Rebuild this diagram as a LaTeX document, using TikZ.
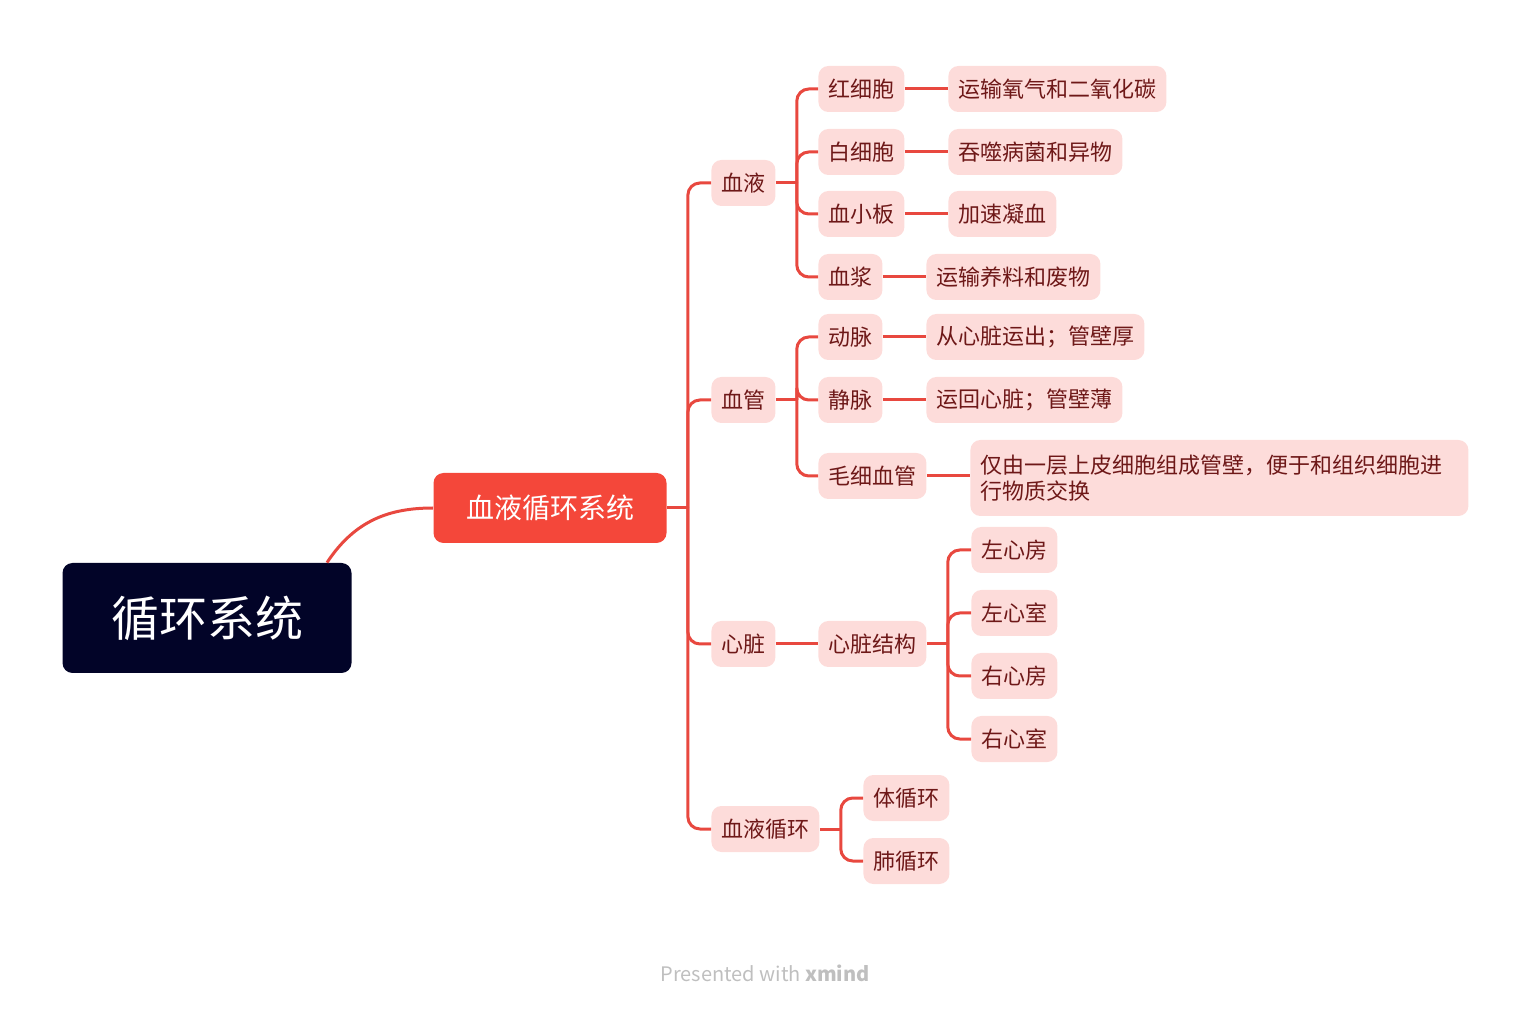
\documentclass[tikz,border=0pt]{standalone}
\usepackage{fontspec}
\setmainfont{Noto Sans CJK SC}
\usepackage{xcolor}
\usetikzlibrary{calc}
\definecolor{navy}{RGB}{2,4,40}
\definecolor{tomato}{RGB}{244,71,58}
\definecolor{blush}{RGB}{253,220,218}
\definecolor{wine}{RGB}{110,24,24}
\definecolor{linkred}{RGB}{232,72,63}

\begin{document}
\begin{tikzpicture}[
                x=0.5pt, y=-0.5pt,
                rootnode/.style={shape=rectangle, rounded corners=5pt, fill=navy, text=white, font=\fontsize{24}{28}\selectfont, minimum width=144.5pt, minimum height=55pt},
                mainnode/.style={shape=rectangle, rounded corners=5pt, fill=tomato, text=white, font=\fontsize{14}{17}\selectfont, minimum width=116.5pt, minimum height=35pt},
                subnode/.style={shape=rectangle, rounded corners=5pt, fill=blush, text=wine, font=\fontsize{11}{13}\selectfont, inner xsep=5pt, minimum height=23pt, anchor=west},
                link/.style={linkred, line width=1.5pt, rounded corners=6pt}
                ]
                \useasboundingbox (0,0) rectangle (1536,1020);

                %% Nodes
                \node[rootnode] (root) at (207,618) {循环系统};
                \node[mainnode] (sys) at (550,508) {血液循环系统};

                \node[subnode] (blood) at (711,183) {血液};
                \node[subnode] (vessel) at (711,400) {血管};
                \node[subnode] (heart) at (711,644) {心脏};
                \node[subnode] (circ) at (711,829) {血液循环};

                \node[subnode] (rbc) at (818,89) {红细胞};
                \node[subnode] (wbc) at (818,152) {白细胞};
                \node[subnode] (plt) at (818,214) {血小板};
                \node[subnode] (plasma) at (818,277) {血浆};
                \node[subnode] (artery) at (818,337) {动脉};
                \node[subnode] (vein) at (818,400) {静脉};
                \node[subnode] (capil) at (818,476) {毛细血管};
                \node[subnode] (struct) at (818,644) {心脏结构};
                \node[subnode] (body) at (863,798) {体循环};
                \node[subnode] (lung) at (863,861) {肺循环};

                \node[subnode] (rbcf) at (948,89) {运输氧气和二氧化碳};
                \node[subnode] (wbcf) at (948,152) {吞噬病菌和异物};
                \node[subnode] (pltf) at (948,214) {加速凝血};
                \node[subnode] (plasmaf) at (926,277) {运输养料和废物};
                \node[subnode] (arteryf) at (926,337) {从心脏运出；管壁厚};
                \node[subnode] (veinf) at (926,400) {运回心脏；管壁薄};
                \node[subnode, text width=239pt, align=left, minimum height=38pt] (capilf) at (970,478) {仅由一层上皮细胞组成管壁，便于和组织细胞进\\行物质交换};
                \node[subnode] (la) at (971,550) {左心房};
                \node[subnode] (lv) at (971,613) {左心室};
                \node[subnode] (ra) at (971,676) {右心房};
                \node[subnode] (rv) at (971,739) {右心室};

                %% Links
                \draw[linkred, line width=1.5pt] (root.north) ++(120,0) .. controls (355,520) and (390,508) .. (sys.west);

                \foreach \p/\kids in {sys/{blood,vessel,heart,circ}, blood/{rbc,wbc,plt,plasma}, vessel/{artery,vein,capil}, struct/{la,lv,ra,rv}, circ/{body,lung}} {
                    \coordinate (trunk) at ($(\p.east)+(21,0)$);
                    \draw[link] (\p.east) -- (trunk);
                    \foreach \c in \kids {
                        \draw[link] (trunk) |- (\c.west);
                    }
                }

                \foreach \a/\b in {heart/struct, rbc/rbcf, wbc/wbcf, plt/pltf, plasma/plasmaf, artery/arteryf, vein/veinf} {
                    \draw[link] (\a.east) -- (\b.west);
                }
                \draw[link] (capil.east) -- (capil.east -| capilf.west);

                %% Footer
                \node[text=black!25, font=\fontsize{10}{12}\selectfont] (credit) at (765,973) {Presented with \textbf{xmind}};
\end{tikzpicture}
\end{document}
